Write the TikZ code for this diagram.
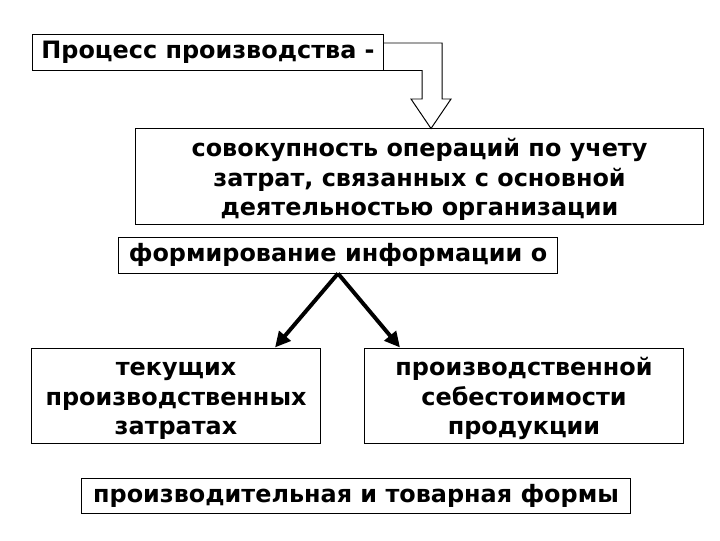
\documentclass[tikz,border=0pt]{standalone}
\usepackage{fontspec}
\setmainfont{DejaVu Sans}
\usetikzlibrary{arrows.meta}

\begin{document}
\begin{tikzpicture}[x=0.025cm,y=-0.025cm,
  box/.style={draw,line width=0.7pt,fill=white,inner sep=0pt,align=center,
    font=\bfseries\fontsize{17}{21}\selectfont},
  tall/.style={box,minimum height=2.375cm,execute at begin node={\rule[-5pt]{0pt}{66pt}}},
  branch/.style={line width=2.8pt,-{Triangle[length=11pt,width=10.5pt]}}]
  \useasboundingbox[fill=white] (0,0) rectangle (720,540);
  % boxes
  \node[box,minimum width=8.75cm,minimum height=0.9cm] (proc) at (208,52) {Процесс производства -};
  \node[tall,minimum width=14.175cm] (ops) at (419.5,176.5)
    {совокупность операций по учету\\затрат, связанных с основной\\деятельностью организации};
  \node[box,minimum width=10.95cm,minimum height=0.9cm] (info) at (338,255) {формирование информации о};
  \node[tall,minimum width=7.2cm] (cur) at (176,395.5)
    {текущих\\производственных\\затратах};
  \node[tall,minimum width=7.95cm] (cost) at (524,395.5)
    {производственной\\себестоимости\\продукции};
  \node[box,minimum width=13.7cm,minimum height=0.875cm] (form) at (356,495.5)
    {производительная и товарная формы};
  % hollow arrow from the first box
  \draw[line width=0.7pt,line join=miter] (proc.east |- 0,43) -- (442,43) -- (442,99) -- (451,99)
    -- (431,0 |- ops.north) -- (411,99) -- (422,99) -- (422,0 |- proc.south) -- (proc.south east);
  % branches
  \draw[branch] (info.south) -- (275,0 |- cur.north);
  \draw[branch] (info.south) -- (400,0 |- cost.north);
\end{tikzpicture}
\end{document}
